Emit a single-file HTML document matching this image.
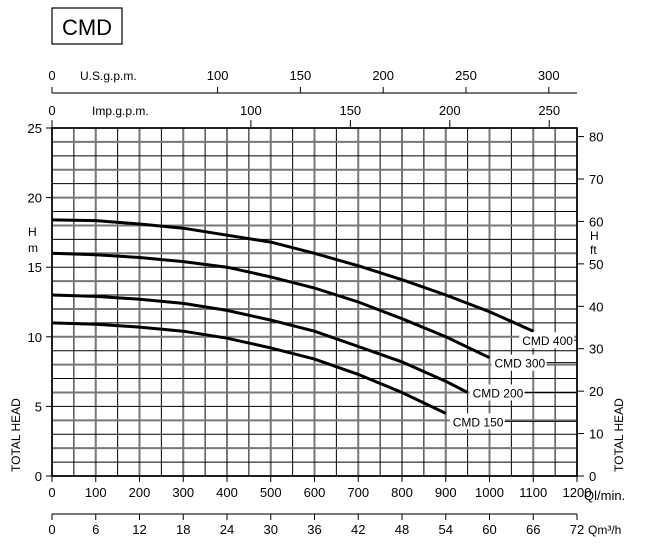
<!DOCTYPE html>
<html><head><meta charset="utf-8"><style>
body{margin:0;background:#fff;}
svg text{font-family:"Liberation Sans",sans-serif;fill:#000;}
</style></head><body>
<svg id="c" width="653" height="550" viewBox="0 0 653 550" xmlns="http://www.w3.org/2000/svg">
<rect x="52" y="8" width="70" height="36" fill="none" stroke="#000" stroke-width="1.2"/>
<text x="87" y="35" font-size="22" text-anchor="middle">CMD</text>
<g id="grid"></g><g id="axes"></g><g id="curves"></g><g id="labels"></g>
</svg>
<script>
const flows=[0,100,200,300,400,500,600,700,800,900,1000,1100];
const cmd400=[18.4,18.35,18.1,17.8,17.3,16.8,16.0,15.1,14.1,13.0,11.8,10.4];
const cmd300=[16.0,15.9,15.7,15.4,15.0,14.3,13.5,12.5,11.3,10.0,8.5];
const cmd200=[13.0,12.9,12.7,12.4,11.9,11.2,10.4,9.3,8.2,6.8,6.0];
const cmd200Flows=[0,100,200,300,400,500,600,700,800,900,950];
const cmd150=[11.0,10.9,10.7,10.4,9.9,9.2,8.4,7.3,6.0,4.5];
const seriesNames=["CMD 400","CMD 300","CMD 200","CMD 150"];
const xTicks=[0,100,200,300,400,500,600,700,800,900,1000,1100,1200];
const m3hTicks=[0,6,12,18,24,30,36,42,48,54,60,66,72];
const usTicks=[0,100,150,200,250,300];
const impTicks=[0,100,150,200,250];
const yTicks=[0,5,10,15,20,25];
const ftTicks=[0,10,20,30,40,50,60,70,80];

const X0=52,X1=577,Y0=476,Y1=128;
const xs=v=>X0+v/1200*(X1-X0);
const ys=v=>Y0-v/25*(Y0-Y1);
const NS="http://www.w3.org/2000/svg";
function mk(tag,attrs,parent,txt){const e=document.createElementNS(NS,tag);for(const k in attrs)e.setAttribute(k,attrs[k]);if(txt!==undefined)e.textContent=txt;document.getElementById(parent).appendChild(e);return e;}

for(let q=0;q<=1200;q+=50){const l=mk('line',{x1:xs(q),x2:xs(q),y1:Y1,y2:Y0,stroke:q%100?'#000':'#777','stroke-width':q%100?1:2},'grid');

}
for(let h=0;h<=25;h++){const l=mk('line',{x1:X0,x2:X1,y1:ys(h),y2:ys(h),stroke:h%2?'#000':'#777','stroke-width':h%2?1:2},'grid');

}
mk('rect',{x:X0,y:Y1,width:X1-X0,height:Y0-Y1,fill:'none',stroke:'#000','stroke-width':1.5},'grid');

yTicks.forEach(v=>{mk('line',{x1:X0-6,x2:X0,y1:ys(v),y2:ys(v),stroke:'#000'},'axes');
const t=mk('text',{x:X0-10,y:ys(v)+5,'font-size':13,'text-anchor':'end'},'axes',v);

});
ftTicks.forEach(v=>{const y=ys(v*0.3048);mk('line',{x1:X1,x2:X1+7,y1:y,y2:y,stroke:'#000'},'axes');
const t=mk('text',{x:X1+12,y:y+5,'font-size':13},'axes',v);

});
xTicks.forEach(v=>{mk('line',{x1:xs(v),x2:xs(v),y1:Y0,y2:Y0+6,stroke:'#000'},'axes');
const t=mk('text',{x:xs(v),y:Y0+21,'font-size':13,'text-anchor':'middle'},'axes',v);

});
mk('line',{x1:X0,x2:X1,y1:514,y2:514,stroke:'#777','stroke-width':2},'axes');
m3hTicks.forEach(v=>{mk('line',{x1:xs(v*1000/60),x2:xs(v*1000/60),y1:514,y2:520,stroke:'#000'},'axes');
const t=mk('text',{x:xs(v*1000/60),y:534,'font-size':13,'text-anchor':'middle'},'axes',v);

});
mk('line',{x1:X0,x2:X1,y1:93,y2:93,stroke:'#777','stroke-width':2},'axes');
usTicks.forEach(v=>{const x=xs(v*3.785);mk('line',{x1:x,x2:x,y1:87,y2:93,stroke:'#000'},'axes');
const t=mk('text',{x:x,y:80,'font-size':13,'text-anchor':'middle'},'axes',v);

});
mk('line',{x1:X0,x2:X1,y1:128,y2:128,stroke:'#000','stroke-width':1.5},'axes');
impTicks.forEach(v=>{const x=xs(v*4.546);mk('line',{x1:x,x2:x,y1:120,y2:128,stroke:'#000'},'axes');
const t=mk('text',{x:x,y:115,'font-size':13,'text-anchor':'middle'},'axes',v);

});
mk('text',{x:80,y:80,'font-size':12},'axes','U.S.g.p.m.');
mk('text',{x:92,y:115,'font-size':12},'axes','Imp.g.p.m.');
mk('text',{x:584,y:500,'font-size':13},'axes','Ql/min.');
mk('text',{x:588,y:534,'font-size':12},'axes','Qm³/h');
mk('text',{x:28,y:236,'font-size':12},'axes','H');
mk('text',{x:28,y:252,'font-size':12},'axes','m');
mk('text',{x:590,y:240,'font-size':12},'axes','H');
mk('text',{x:590,y:254,'font-size':12},'axes','ft');
mk('text',{x:0,y:0,'font-size':12,transform:'translate(20,472) rotate(-90)'},'axes','TOTAL HEAD');
mk('text',{x:0,y:0,'font-size':12,transform:'translate(623,472) rotate(-90)'},'axes','TOTAL HEAD');

const all=[[flows,cmd400],[flows,cmd300],[cmd200Flows,cmd200],[flows,cmd150]];
const labelOff=[[-11,9],[5,5],[5,0],[7,8]];
all.forEach(([fx,hy],i)=>{
 const d=hy.map((h,j)=>(j?'L':'M')+xs(fx[j]).toFixed(1)+','+ys(h).toFixed(1)).join(' ');
 const p=mk('path',{d:d,fill:'none',stroke:'#000','stroke-width':3},'curves');
 
 
 const n=hy.length-1,ex=xs(fx[n]),ey=ys(hy[n]);
 const lx=ex+labelOff[i][0], ly=ey+labelOff[i][1];
 mk('rect',{x:lx-3,y:ly-8,width:55,height:16,fill:'#fff'},'labels');
 mk('line',{x1:lx+52,x2:X1,y1:ly,y2:ly,stroke:'#000'},'labels');
 const t=mk('text',{x:lx,y:ly+5,'font-size':12},'labels',seriesNames[i]);
 
 
});
</script>
</body></html>
